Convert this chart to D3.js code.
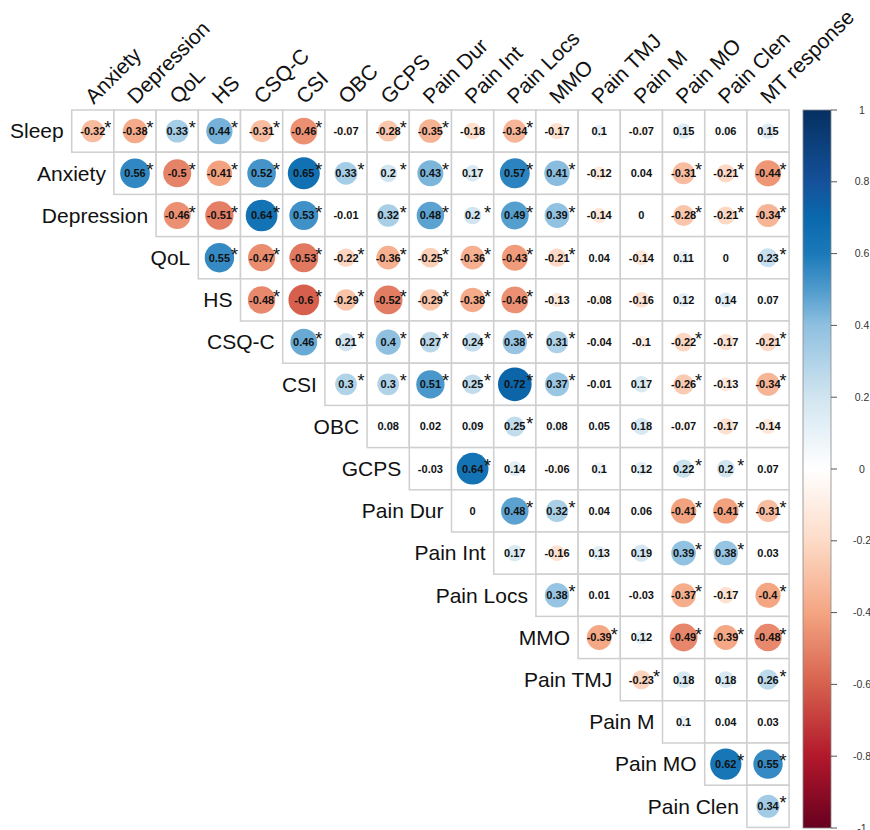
<!DOCTYPE html>
<html>
<head>
<meta charset="utf-8">
<script src="https://cdn.jsdelivr.net/npm/d3@7"></script>
<style>
    body { margin: 0; background: white; }
    svg { display: block; font-family: "Liberation Sans", Arial, sans-serif; }
</style>
</head>
<body>
<div id="corr-area"></div>
<script>

// variable names (rows start at Sleep, columns start at Anxiety)
const rowLabels = ["Sleep", "Anxiety", "Depression", "QoL", "HS", "CSQ-C", "CSI", "OBC", "GCPS",
    "Pain Dur", "Pain Int", "Pain Locs", "MMO", "Pain TMJ", "Pain M", "Pain MO", "Pain Clen"];

const colLabels = ["Anxiety", "Depression", "QoL", "HS", "CSQ-C", "CSI", "OBC", "GCPS", "Pain Dur",
    "Pain Int", "Pain Locs", "MMO", "Pain TMJ", "Pain M", "Pain MO", "Pain Clen", "MT response"];

// correlations, row i starts at column i (upper triangle)
const corrValues = [
    [-0.32, -0.38, 0.33, 0.44, -0.31, -0.46, -0.07, -0.28, -0.35, -0.18, -0.34, -0.17, 0.1, -0.07, 0.15, 0.06, 0.15],
    [0.56, -0.5, -0.41, 0.52, 0.65, 0.33, 0.2, 0.43, 0.17, 0.57, 0.41, -0.12, 0.04, -0.31, -0.21, -0.44],
    [-0.46, -0.51, 0.64, 0.53, -0.01, 0.32, 0.48, 0.2, 0.49, 0.39, -0.14, 0, -0.28, -0.21, -0.34],
    [0.55, -0.47, -0.53, -0.22, -0.36, -0.25, -0.36, -0.43, -0.21, 0.04, -0.14, 0.11, 0, 0.23],
    [-0.48, -0.6, -0.29, -0.52, -0.29, -0.38, -0.46, -0.13, -0.08, -0.16, 0.12, 0.14, 0.07],
    [0.46, 0.21, 0.4, 0.27, 0.24, 0.38, 0.31, -0.04, -0.1, -0.22, -0.17, -0.21],
    [0.3, 0.3, 0.51, 0.25, 0.72, 0.37, -0.01, 0.17, -0.26, -0.13, -0.34],
    [0.08, 0.02, 0.09, 0.25, 0.08, 0.05, 0.18, -0.07, -0.17, -0.14],
    [-0.03, 0.64, 0.14, -0.06, 0.1, 0.12, 0.22, 0.2, 0.07],
    [0, 0.48, 0.32, 0.04, 0.06, -0.41, -0.41, -0.31],
    [0.17, -0.16, 0.13, 0.19, 0.39, 0.38, 0.03],
    [0.38, 0.01, -0.03, -0.37, -0.17, -0.4],
    [-0.39, 0.12, -0.49, -0.39, -0.48],
    [-0.23, 0.18, 0.18, 0.26],
    [0.1, 0.04, 0.03],
    [0.62, 0.55],
    [0.34]
];

// 1 = significant (star)
const sigFlags = [
    [1, 1, 1, 1, 1, 1, 0, 1, 1, 0, 1, 0, 0, 0, 0, 0, 0],
    [1, 1, 1, 1, 1, 1, 1, 1, 0, 1, 1, 0, 0, 1, 1, 1],
    [1, 1, 1, 1, 0, 1, 1, 1, 1, 1, 0, 0, 1, 1, 1],
    [1, 1, 1, 1, 1, 1, 1, 1, 1, 0, 0, 0, 0, 1],
    [1, 1, 1, 1, 1, 1, 1, 0, 0, 0, 0, 0, 0],
    [1, 1, 1, 1, 1, 1, 1, 0, 0, 1, 0, 1],
    [1, 1, 1, 1, 1, 1, 0, 0, 1, 0, 1],
    [0, 0, 0, 1, 0, 0, 0, 0, 0, 0],
    [0, 1, 0, 0, 0, 0, 1, 1, 0],
    [0, 1, 1, 0, 0, 1, 1, 1],
    [0, 0, 0, 0, 1, 1, 0],
    [1, 0, 0, 1, 0, 1],
    [1, 0, 1, 1, 1],
    [1, 0, 0, 1],
    [0, 0, 0],
    [1, 1],
    [1]
];

// legend ticks
const legendTicks = [1, 0.8, 0.6, 0.4, 0.2, 0, -0.2, -0.4, -0.6, -0.8, -1];


class CorrVis {

    constructor(parentElement) {
        this.parentElement = parentElement;
        this.initVis();
    }

    initVis() {
        let vis = this;

        vis.width = 870;
        vis.height = 830;
        vis.gridLeft = 71.7;
        vis.gridTop = 110;
        vis.cell = 42.2;

        vis.svg = d3.select("#" + vis.parentElement).append("svg")
            .attr("width", vis.width)
            .attr("height", vis.height);

        vis.x = d3.scaleBand()
            .domain(colLabels)
            .range([vis.gridLeft, vis.gridLeft + vis.cell * colLabels.length]);

        vis.y = d3.scaleBand()
            .domain(rowLabels)
            .range([vis.gridTop, vis.gridTop + vis.cell * rowLabels.length]);

        // RdBu-ish palette
        vis.color = d3.scaleLinear()
            .domain([-1, -0.8, -0.6, -0.4, -0.2, 0, 0.2, 0.4, 0.5, 0.6, 0.7, 0.8, 1])
            .range(["#67001F", "#B2182B", "#D6604D", "#F4A582", "#FDDBC7", "#FFFFFF",
                "#D1E5F0", "#8fc0e0", "#4f9bcd", "#1b79b9", "#0a69ad", "#15519a", "#053061"]);

        vis.r = d => 0.47 * Math.sqrt(Math.abs(d)) * vis.cell;

        vis.wrangleData();
    }

    wrangleData() {
        let vis = this;

        vis.cells = [];
        corrValues.forEach((row, i) => {
            row.forEach((v, k) => {
                vis.cells.push({ row: rowLabels[i], col: colLabels[i + k], value: v, sig: sigFlags[i][k] });
            });
        });

        vis.updateVis();
    }

    updateVis() {
        let vis = this;
        let cx = d => vis.x(d.col) + vis.x.bandwidth() / 2;
        let cy = d => vis.y(d.row) + vis.y.bandwidth() / 2;

        // grid cells
        vis.svg.append("g").selectAll("rect")
            .data(vis.cells)
            .enter()
            .append("rect")
            .attr("x", d => vis.x(d.col))
            .attr("y", d => vis.y(d.row))
            .attr("width", vis.x.bandwidth())
            .attr("height", vis.y.bandwidth())
            .style("fill", "white")
            .style("stroke", "#cfcfcf")
            .style("stroke-width", 1.5);

        // circles
        vis.svg.append("g").selectAll("circle")
            .data(vis.cells)
            .enter()
            .append("circle")
            .attr("cx", cx)
            .attr("cy", cy)
            .attr("r", d => vis.r(d.value))
            .style("fill", d => vis.color(d.value));

        // numbers
        vis.svg.append("g").selectAll("text")
            .data(vis.cells)
            .enter()
            .append("text")
            .attr("x", cx)
            .attr("y", cy)
            .attr("dy", "0.36em")
            .attr("text-anchor", "middle")
            .text(d => String(d.value))
            .style("fill", "#111")
            .style("font-size", "11px")
            .style("font-weight", "bold");

        // significance stars
        vis.svg.append("g").selectAll("text")
            .data(vis.cells.filter(d => d.sig))
            .enter()
            .append("text")
            .attr("x", d => cx(d) + 15)
            .attr("y", d => cy(d) + 3)
            .attr("text-anchor", "middle")
            .text("*")
            .style("fill", "#111")
            .style("font-size", "18px");

        // row labels
        vis.svg.append("g").selectAll("text")
            .data(rowLabels)
            .enter()
            .append("text")
            .attr("x", (d, i) => vis.x(colLabels[i]) - 8)
            .attr("y", d => vis.y(d) + vis.y.bandwidth() / 2)
            .attr("dy", "0.35em")
            .attr("text-anchor", "end")
            .text(d => d)
            .style("fill", "#111")
            .style("font-size", "21px");

        // column labels
        vis.svg.append("g").selectAll("text")
            .data(colLabels)
            .enter()
            .append("text")
            .attr("transform", d => `translate(${vis.x(d) + vis.x.bandwidth() / 2 + 1}, ${vis.gridTop - 5}) rotate(-45)`)
            .attr("text-anchor", "start")
            .text(d => d)
            .style("fill", "#111")
            .style("font-size", "21px");

        // color legend
        let legX = 803, legW = 28;
        let ly = d3.scaleLinear().domain([-1, 1]).range([828, 110]);

        let grad = vis.svg.append("defs").append("linearGradient")
            .attr("id", "corr-grad")
            .attr("x1", 0).attr("y1", 1).attr("x2", 0).attr("y2", 0);
        grad.selectAll("stop")
            .data(d3.range(0, 101))
            .enter()
            .append("stop")
            .attr("offset", d => d + "%")
            .attr("stop-color", d => vis.color(-1 + d / 50));

        vis.svg.append("rect")
            .attr("x", legX)
            .attr("y", ly(1))
            .attr("width", legW)
            .attr("height", ly(-1) - ly(1))
            .style("fill", "url(#corr-grad)")
            .style("stroke", "#888")
            .style("stroke-width", 0.8);

        let tk = vis.svg.append("g").selectAll("g")
            .data(legendTicks)
            .enter()
            .append("g")
            .attr("transform", d => `translate(0, ${ly(d)})`);
        tk.append("line")
            .attr("x1", legX + legW)
            .attr("x2", legX + legW + 6)
            .style("stroke", "#555")
            .style("stroke-width", 1);
        tk.append("text")
            .attr("x", 862)
            .attr("dy", "0.35em")
            .attr("text-anchor", "middle")
            .text(d => String(d))
            .style("fill", "#333")
            .style("font-size", "10.5px");
    }
}

new CorrVis("corr-area");

</script>
</body>
</html>
